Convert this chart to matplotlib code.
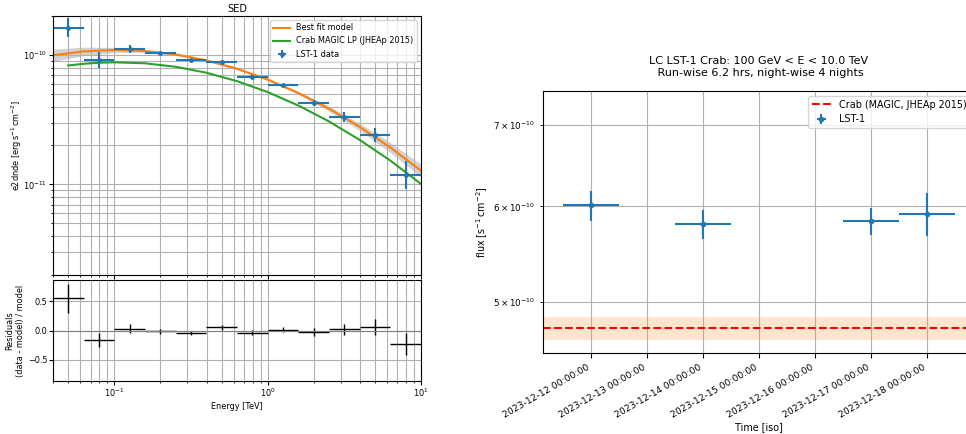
import numpy as np
import matplotlib
matplotlib.use("Agg")
import matplotlib.pyplot as plt
import matplotlib.dates as mdates

# SED data points (LST-1), energies in TeV, e2dnde in erg s^-1 cm^-2
e_center = [0.0501, 0.0794, 0.126, 0.2, 0.316, 0.501, 0.794, 1.26, 2.0, 3.16, 5.01, 7.94]
e_edges = [0.0398, 0.0631, 0.1, 0.158, 0.251, 0.398, 0.631, 1.0, 1.58, 2.51, 3.98, 6.31, 10.0]
sed_flux = [1.63e-10, 0.92e-10, 1.12e-10, 1.036e-10, 0.915e-10, 0.889e-10,
            0.681e-10, 0.584e-10, 0.429e-10, 0.332e-10, 0.241e-10, 0.119e-10]
sed_errp = [0.30e-10, 0.14e-10, 0.08e-10, 0.02e-10, 0.01e-10, 0.015e-10,
            0.02e-10, 0.018e-10, 0.023e-10, 0.03e-10, 0.03e-10, 0.034e-10]
sed_errn = [0.25e-10, 0.13e-10, 0.08e-10, 0.02e-10, 0.01e-10, 0.015e-10,
            0.02e-10, 0.018e-10, 0.023e-10, 0.03e-10, 0.027e-10, 0.026e-10]

# best fit model and its error band
model_e = [0.0398, 0.0631, 0.1, 0.158, 0.251, 0.398, 0.631, 1.0, 1.58, 2.51, 3.98, 6.31, 10.0]
model_flux = [0.995e-10, 1.066e-10, 1.094e-10, 1.074e-10, 1.010e-10, 0.909e-10, 0.783e-10,
              0.646e-10, 0.510e-10, 0.385e-10, 0.2786e-10, 0.1929e-10, 0.1278e-10]
model_hi = [1.109e-10, 1.150e-10, 1.146e-10, 1.104e-10, 1.029e-10, 0.924e-10, 0.796e-10,
            0.658e-10, 0.524e-10, 0.403e-10, 0.297e-10, 0.2104e-10, 0.1434e-10]
model_lo = [0.893e-10, 0.988e-10, 1.045e-10, 1.045e-10, 0.992e-10, 0.895e-10, 0.771e-10,
            0.634e-10, 0.496e-10, 0.368e-10, 0.261e-10, 0.1768e-10, 0.1139e-10]

# Crab MAGIC log-parabola reference
magic_e = [0.05, 0.0631, 0.0794, 0.1, 0.158, 0.251, 0.398, 0.631, 1.0, 1.58, 2.51, 3.98, 6.31, 10.0]
magic_flux = [8.30e-11, 8.55e-11, 8.72e-11, 8.78e-11, 8.63e-11, 8.11e-11, 7.30e-11,
              6.28e-11, 5.17e-11, 4.08e-11, 3.07e-11, 2.21e-11, 1.53e-11, 1.01e-11]

# residuals
res = [0.55, -0.16, 0.034, -0.012, -0.04, 0.056, -0.035, 0.017, -0.024, 0.022, 0.056, -0.23]
res_err = [0.25, 0.12, 0.07, 0.04, 0.04, 0.04, 0.037, 0.045, 0.065, 0.09, 0.136, 0.19]

# light curve
lc_dates = ["2023-12-12", "2023-12-14", "2023-12-17", "2023-12-18"]
lc_flux = [6.01e-10, 5.80e-10, 5.83e-10, 5.91e-10]
lc_err = [0.17e-10, 0.16e-10, 0.15e-10, 0.24e-10]
crab_ref = 4.76e-10
crab_lo = 4.65e-10
crab_hi = 4.86e-10

plt.rcParams['font.size'] = 5.9

fig = plt.figure(figsize=(9.66, 4.34), dpi=100)
ax_sed = fig.add_axes([0.0552, 0.3664, 0.3806, 0.5967])
ax_res = fig.add_axes([0.0552, 0.1221, 0.3806, 0.2327], sharex=ax_sed)
ax_lc = fig.add_axes([0.5621, 0.1866, 0.4472, 0.6037])

# --- SED ---
ec = np.array(e_center)
edges = np.array(e_edges)
xerr = [ec - edges[:-1], edges[1:] - ec]

ax_sed.fill_between(model_e, model_lo, model_hi, color='gray', alpha=0.35, lw=0)
ax_sed.plot(model_e, model_flux, color='C1', label='Best fit model')
ax_sed.plot(magic_e, magic_flux, color='C2', label='Crab MAGIC LP (JHEAp 2015)')
ax_sed.errorbar(e_center, sed_flux, xerr=xerr, yerr=[sed_errn, sed_errp],
                fmt='o', ms=2.5, color='C0', label='LST-1 data')
ax_sed.set_xscale('log')
ax_sed.set_yscale('log')
ax_sed.set_xlim(0.04, 10)
ax_sed.set_ylim(2e-12, 2e-10)
ax_sed.set_ylabel(r'e2dnde [erg$\,$s$^{-1}\,$cm$^{-2}$]')
ax_sed.yaxis.set_label_coords(-0.079, 0.5)
ax_sed.set_title('SED', pad=3)
ax_sed.grid(True, which='both')
ax_sed.tick_params(which='major', length=2.8, pad=1.5)
ax_sed.tick_params(which='minor', length=1.6, pad=1.5)
ax_sed.tick_params(labelbottom=False)
ax_sed.legend(loc='upper right')

ax_res.errorbar(e_center, res, xerr=xerr, yerr=res_err, fmt='none', color='k', lw=1)
ax_res.axhline(0, color='gray', lw=0.8)
ax_res.set_ylim(-0.86, 0.86)
ax_res.set_xlabel('Energy [TeV]', labelpad=2)
ax_res.set_ylabel('Residuals\n(data - model) / model')
ax_res.yaxis.set_label_coords(-0.077, 0.5)
ax_res.grid(True, which='both')
ax_res.tick_params(which='major', length=2.8, pad=1.5)
ax_res.tick_params(which='minor', length=1.6, pad=1.5)

# --- light curve ---
fs = 6.9
t = mdates.date2num(np.array(lc_dates, dtype='datetime64[D]'))
ax_lc.axhspan(crab_lo, crab_hi, color='C1', alpha=0.2, lw=0)
ax_lc.axhline(crab_ref, color='red', ls='--', label='Crab (MAGIC, JHEAp 2015)')
ax_lc.errorbar(t, lc_flux, xerr=0.5, yerr=lc_err, fmt='o', ms=3, color='C0', label='LST-1')
ax_lc.set_yscale('log')
ax_lc.set_ylim(4.54e-10, 7.47e-10)
ax_lc.xaxis_date()
ax_lc.xaxis.set_major_locator(mdates.DayLocator())
ax_lc.xaxis.set_major_formatter(mdates.DateFormatter('%Y-%m-%d %H:%M:%S'))
ax_lc.tick_params(axis='x', which='both', labelsize=6.7)
ax_lc.tick_params(axis='y', which='both', labelsize=6.3)
plt.setp(ax_lc.get_xticklabels(), rotation=30, ha='right')
ax_lc.grid(True, which='both')
ax_lc.set_xlabel('Time [iso]', fontsize=fs, labelpad=2)
ax_lc.set_ylabel(r'flux [s$^{-1}\,$cm$^{-2}$]', fontsize=fs)
ax_lc.yaxis.set_label_coords(-0.123, 0.5)
ax_lc.set_title('LC LST-1 Crab: 100 GeV < E < 10.0 TeV\n Run-wise 6.2 hrs, night-wise 4 nights',
                fontsize=8.0, pad=11)
ax_lc.legend(loc='upper right', fontsize=fs)

fig.savefig('out.png', dpi=100)
